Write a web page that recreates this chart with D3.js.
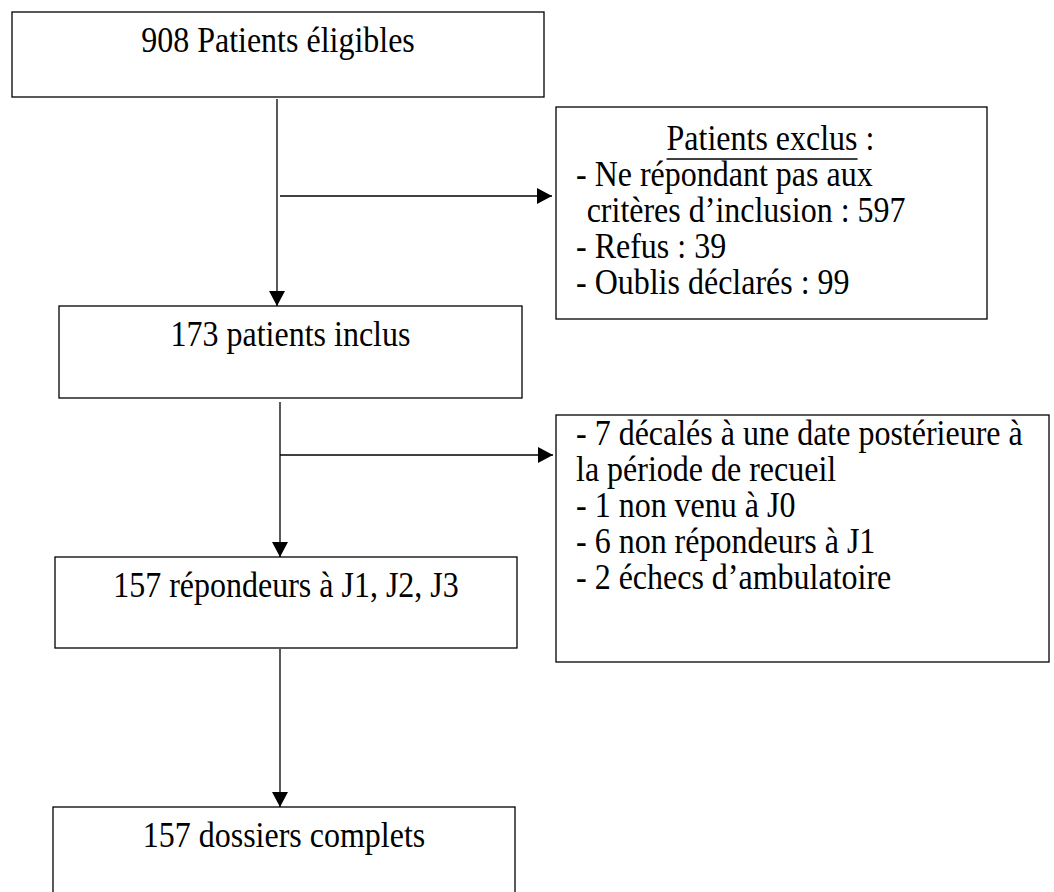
<!DOCTYPE html>
<html lang="fr">
<head>
    <meta charset="UTF-8">
    <title>Diagramme de flux</title>
    <script src="https://cdn.jsdelivr.net/npm/d3@7"></script>
    <style>
        body { margin: 0; background: #fff; }
        text { font-family: "Liberation Serif", "Times New Roman", serif; font-size: 32px; fill: #000; }
    </style>
</head>
<body>
<div id="chart"></div>
<script>
    // données
    var counts = [908, 173, 157, 157];
    var stepLabels = ["Patients éligibles", "patients inclus", "répondeurs à J1, J2, J3", "dossiers complets"];
    var excludedTitle = "Patients exclus";
    var excludedLines = ["- Ne répondant pas aux", "critères d’inclusion : 597", "- Refus : 39", "- Oublis déclarés : 99"];
    var droppedLines = ["- 7 décalés à une date postérieure à", "la période de recueil", "- 1 non venu à J0",
        "- 6 non répondeurs à J1", "- 2 échecs d’ambulatoire"];

    var width = 1054, height = 892;

    // mise en page des boîtes (pixels)
    var mainBoxes = [
        {x0: 12, x1: 544, y0: 12, y1: 97},
        {x0: 59, x1: 522, y0: 306, y1: 398},
        {x0: 55, x1: 517, y0: 557, y1: 648},
        {x0: 53, x1: 515, y0: 807, y1: 930}
    ];
    var sideBoxes = [
        {x0: 556, x1: 987, y0: 107, y1: 319},
        {x0: 556, x1: 1049, y0: 415, y1: 662}
    ];
    var lineStep = 36;
    var stretch = 1.1; // le texte d'origine est un peu étiré en hauteur

    var svg = d3.select("#chart").append("svg")
        .attr("width", width).attr("height", height);

    svg.append("rect").attr("width", width).attr("height", height).attr("fill", "#fff");

    // pointe de flèche
    svg.append("defs").append("marker")
        .attr("id", "head")
        .attr("markerUnits", "userSpaceOnUse")
        .attr("viewBox", "0 0 15 16")
        .attr("refX", 15).attr("refY", 8)
        .attr("markerWidth", 15).attr("markerHeight", 16)
        .attr("orient", "auto")
        .append("path").attr("d", "M0,0L15,8L0,16Z").attr("fill", "#000");

    function stretchY(sel) {
        sel.attr("transform", function () {
            var y = +d3.select(this).attr("y");
            return "translate(0," + y + ") scale(1," + stretch + ") translate(0," + (-y) + ")";
        });
    }

    // boîtes principales
    svg.selectAll("rect.main").data(mainBoxes).enter().append("rect")
        .attr("class", "main")
        .attr("x", function (d) { return d.x0; })
        .attr("y", function (d) { return d.y0; })
        .attr("width", function (d) { return d.x1 - d.x0; })
        .attr("height", function (d) { return d.y1 - d.y0; })
        .attr("fill", "none").attr("stroke", "#000").attr("stroke-width", 1.3);

    svg.selectAll("text.main").data(counts).enter().append("text")
        .attr("class", "main")
        .attr("text-anchor", "middle")
        .attr("x", function (d, i) { return (mainBoxes[i].x0 + mainBoxes[i].x1) / 2; })
        .attr("y", function (d, i) { return mainBoxes[i].y0 + 40; })
        .text(function (d, i) { return d + " " + stepLabels[i]; })
        .call(stretchY);

    // boîtes latérales
    svg.selectAll("rect.side").data(sideBoxes).enter().append("rect")
        .attr("class", "side")
        .attr("x", function (d) { return d.x0; })
        .attr("y", function (d) { return d.y0; })
        .attr("width", function (d) { return d.x1 - d.x0; })
        .attr("height", function (d) { return d.y1 - d.y0; })
        .attr("fill", "none").attr("stroke", "#000").attr("stroke-width", 1.3);

    // titre souligné
    var b1 = sideBoxes[0];
    var title = svg.append("text")
        .attr("text-anchor", "middle")
        .attr("x", (b1.x0 + b1.x1) / 2 - 1)
        .attr("y", b1.y0 + 43)
        .text(excludedTitle + " :")
        .call(stretchY);
    var tStart = title.node().getStartPositionOfChar(0).x;
    var tLen = title.node().getSubStringLength(0, excludedTitle.length);
    svg.append("line")
        .attr("x1", tStart).attr("x2", tStart + tLen)
        .attr("y1", b1.y0 + 52).attr("y2", b1.y0 + 52)
        .attr("stroke", "#000").attr("stroke-width", 1.5);

    // liste des exclus (retrait suspendu pour la ligne de continuation)
    var probe = svg.append("text").attr("x", 0).attr("y", -50).text("- ");
    var dashWidth = probe.node().getSubStringLength(0, 2);
    probe.remove();

    svg.selectAll("text.excl").data(excludedLines).enter().append("text")
        .attr("class", "excl")
        .attr("x", function (d) { return b1.x0 + 20 + (d.indexOf("- ") === 0 ? 0 : dashWidth); })
        .attr("y", function (d, i) { return b1.y0 + 43 + (i + 1) * lineStep; })
        .text(function (d) { return d; })
        .call(stretchY);

    var b2 = sideBoxes[1];
    svg.selectAll("text.drop").data(droppedLines).enter().append("text")
        .attr("class", "drop")
        .attr("x", b2.x0 + 20)
        .attr("y", function (d, i) { return b2.y0 + 30 + i * lineStep; })
        .text(function (d) { return d; })
        .call(stretchY);

    // flèches
    var arrows = [
        [[277, 99], [277, 306]],
        [[280, 196], [552, 196]],
        [[280, 402], [280, 557]],
        [[280, 455], [553, 455]],
        [[280, 649], [280, 807]]
    ];
    var line = d3.line();
    svg.selectAll("path.arrow").data(arrows).enter().append("path")
        .attr("class", "arrow")
        .attr("d", line)
        .attr("fill", "none").attr("stroke", "#000").attr("stroke-width", 1.3)
        .attr("marker-end", "url(#head)");
</script>
</body>
</html>
